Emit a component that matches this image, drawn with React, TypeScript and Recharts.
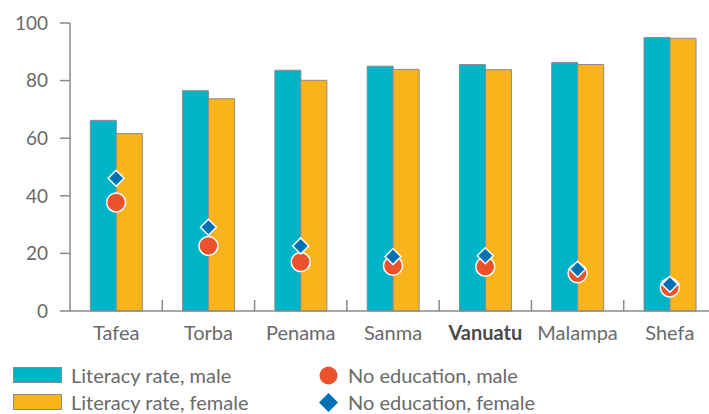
import React from 'react';
import { ComposedChart, Bar, Scatter, XAxis, YAxis, Legend } from 'recharts';

const provinces = ['Tafea', 'Torba', 'Penama', 'Sanma', 'Vanuatu', 'Malampa', 'Shefa'];
const literacyMale = [66.2, 76.5, 83.6, 85.0, 85.6, 86.3, 95.0];
const literacyFemale = [61.6, 73.7, 80.1, 83.9, 83.8, 85.6, 94.7];
const noEduMale = [37.7, 22.6, 17.0, 15.7, 15.4, 13.1, 8.2];
const noEduFemale = [46.1, 29.1, 22.6, 18.9, 19.2, 14.5, 9.3];
const yTicks = [0, 20, 40, 60, 80, 100];

const data = provinces.map((name, i) => ({
  name,
  litMale: literacyMale[i],
  litFemale: literacyFemale[i],
  eduMale: noEduMale[i],
  eduFemale: noEduFemale[i],
}));

const TEAL = '#00B4C8';
const ORANGE = '#F9B31B';
const RED = '#E9522B';
const BLUE = '#0072B4';
const FONT = 'Lato, sans-serif';

const CHART_W = 716;
const Y_W = 70;
const BAND = (CHART_W - Y_W) / provinces.length;

const CategoryTick = (props: any) => {
  const { x, y, payload, index } = props;
  const bold = payload.value === 'Vanuatu';
  return (
    <g>
      {index < provinces.length - 1 && (
        <line x1={x + BAND / 2} x2={x + BAND / 2} y1={y} y2={y - 11} stroke="#8a8a8a" strokeWidth={1.5} />
      )}
      <text
        x={x}
        y={y}
        dy={29}
        textAnchor="middle"
        fontSize={20}
        fontFamily={FONT}
        fontWeight={bold ? 700 : 400}
        fill={bold ? '#4a4a4a' : '#6a6a6a'}
      >
        {payload.value}
      </text>
    </g>
  );
};

const Dot = (props: any) => (
  <circle cx={props.cx} cy={props.cy} r={9.5} fill={RED} stroke="#fff" strokeWidth={1.5} />
);

const Diamond = (props: any) => {
  const { cx, cy } = props;
  const s = 8;
  return (
    <path
      d={`M${cx},${cy - s} L${cx + s},${cy} L${cx},${cy + s} L${cx - s},${cy} Z`}
      fill={BLUE}
      stroke="#fff"
      strokeWidth={1.5}
    />
  );
};

const legendItems = [
  { label: 'Literacy rate, male', kind: 'bar', color: TEAL },
  { label: 'No education, male', kind: 'circle', color: RED },
  { label: 'Literacy rate, female', kind: 'bar', color: ORANGE },
  { label: 'No education, female', kind: 'diamond', color: BLUE },
];

const LegendContent = () => (
  <div style={{ position: 'relative', height: 80, fontFamily: FONT, fontSize: 20, color: '#6a6a6a' }}>
    {legendItems.map((item, i) => {
      const col = i % 2;
      const row = Math.floor(i / 2);
      const left = col === 0 ? 13 : 319;
      const top = 14 + row * 27;
      return (
        <div key={item.label} style={{ position: 'absolute', left, top, display: 'flex', alignItems: 'center', height: 22, whiteSpace: 'nowrap' }}>
          {item.kind === 'bar' && (
            <span style={{ display: 'inline-block', boxSizing: 'border-box', width: 49, height: 16, background: item.color, border: '1px solid #8a8a8a', marginRight: 9 }} />
          )}
          {item.kind === 'circle' && (
            <svg width={19} height={19} style={{ marginRight: 10 }}>
              <circle cx={9.5} cy={9.5} r={9} fill={item.color} />
            </svg>
          )}
          {item.kind === 'diamond' && (
            <svg width={19} height={19} style={{ marginRight: 10 }}>
              <path d="M9.5,0 L19,9.5 L9.5,19 L0,9.5 Z" fill={item.color} />
            </svg>
          )}
          <span>{item.label}</span>
        </div>
      );
    })}
  </div>
);

export default function App() {
  return (
    <div style={{ position: 'absolute', left: 0, top: 0, width: 709, height: 414, overflow: 'hidden', background: '#fff' }}>
      <ComposedChart
        width={CHART_W}
        height={430}
        data={data}
        margin={{ top: 23, right: 0, bottom: 0, left: 0 }}
        barGap={0}
        barCategoryGap="22%"
      >
        <XAxis
          dataKey="name"
          axisLine={{ stroke: '#8a8a8a', strokeWidth: 1.5 }}
          tickLine={false}
          tickSize={0}
          tickMargin={0}
          height={39}
          interval={0}
          tick={<CategoryTick />}
        />
        <YAxis
          width={Y_W}
          domain={[0, 100]}
          ticks={yTicks}
          axisLine={{ stroke: '#8a8a8a', strokeWidth: 1.5 }}
          tickLine={{ stroke: '#8a8a8a', strokeWidth: 1.5 }}
          tickSize={10}
          tickMargin={12}
          tick={{ fontSize: 19, fill: '#6a6a6a', fontFamily: FONT }}
        />
        <Legend verticalAlign="bottom" height={80} content={<LegendContent />} />
        <Bar dataKey="litMale" fill={TEAL} stroke="#8c8c8c" strokeWidth={1} isAnimationActive={false} />
        <Bar dataKey="litFemale" fill={ORANGE} stroke="#8c8c8c" strokeWidth={1} isAnimationActive={false} />
        <Scatter dataKey="eduMale" shape={<Dot />} isAnimationActive={false} />
        <Scatter dataKey="eduFemale" shape={<Diamond />} isAnimationActive={false} />
      </ComposedChart>
    </div>
  );
}
